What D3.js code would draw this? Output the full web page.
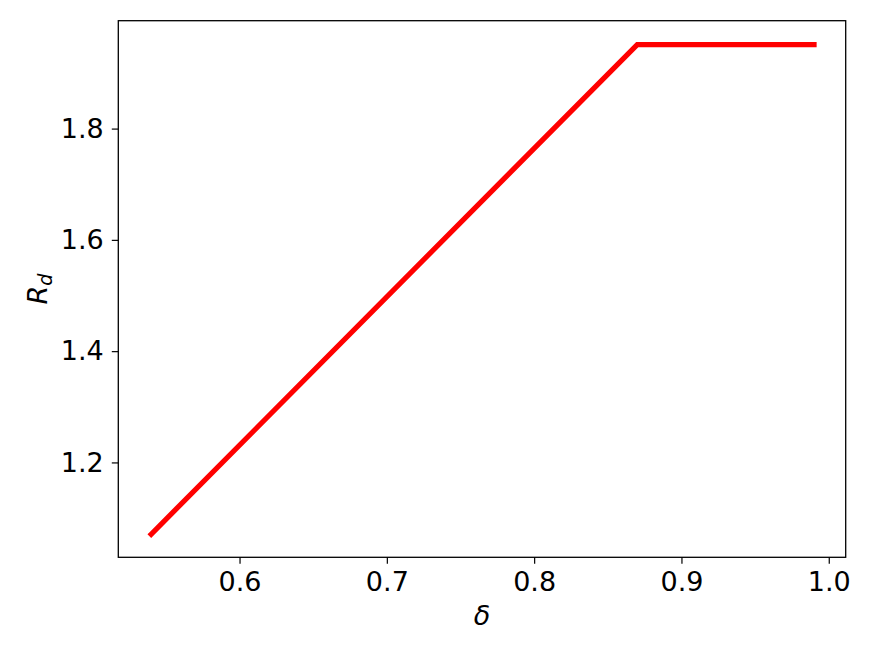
<!DOCTYPE html>
<html><head><meta charset="utf-8">
<script src="https://cdn.jsdelivr.net/npm/d3@7"></script>
<style>body{margin:0;background:#fff}svg{display:block}text{font-family:"DejaVu Sans",sans-serif}</style>
</head><body><svg id="c" width="872" height="654"></svg>
<script>
const deltaValues = [0.54, 0.87, 0.99];
const rdValues = [1.071, 1.951, 1.951];
const xTicks = [0.6, 0.7, 0.8, 0.9, 1.0];
const yTicks = [1.2, 1.4, 1.6, 1.8];

const svg = d3.select("#c");
const L = 118.3, R = 845.7, T = 20.7, B = 557.3;
const x = d3.scaleLinear().domain([0.5177, 1.0115]).range([L, R]);
const y = d3.scaleLinear().domain([1.0295, 1.9939]).range([B, T]);

const pts = deltaValues.map((d, i) => [d, rdValues[i]]);
svg.append("path").datum(pts)
  .attr("d", d3.line().x(d => x(d[0])).y(d => y(d[1])))
  .attr("fill", "none").attr("stroke", "#ff0000").attr("stroke-width", 5.2)
  .attr("stroke-linejoin", "miter").attr("stroke-linecap", "square");

const xa = svg.append("g").attr("transform", `translate(0,${B})`)
  .call(d3.axisBottom(x).tickValues(xTicks).tickFormat(d3.format(".1f")).tickSize(6.5).tickPadding(8));
const ya = svg.append("g").attr("transform", `translate(${L},0)`)
  .call(d3.axisLeft(y).tickValues(yTicks).tickFormat(d3.format(".1f")).tickSize(6.5).tickPadding(8));
[xa, ya].forEach(a => {
  a.select(".domain").remove();
  a.selectAll("line").attr("stroke", "#000").attr("stroke-width", 1.2);
  a.selectAll("text").attr("font-size", 27).attr("fill", "#000").attr("font-family", "DejaVu Sans");
});

svg.append("rect").attr("x", L).attr("y", T).attr("width", R - L).attr("height", B - T)
  .attr("fill", "none").attr("stroke", "#000").attr("stroke-width", 1.3);

svg.append("text").attr("x", (L + R) / 2).attr("y", 625).attr("text-anchor", "middle")
  .attr("font-size", 27).attr("font-style", "italic").text("δ");
const yl = svg.append("text").attr("transform", "translate(47,289) rotate(-90)")
  .attr("text-anchor", "middle").attr("font-size", 27).attr("font-style", "italic");
yl.append("tspan").text("R");
yl.append("tspan").attr("font-size", 19).attr("dy", 5).text("d");
</script></body></html>
